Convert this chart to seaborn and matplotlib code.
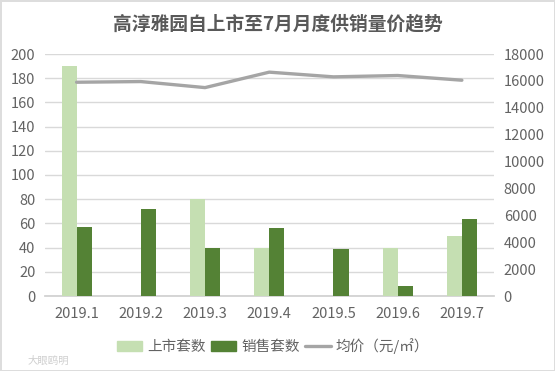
import matplotlib
matplotlib.use("Agg")
import matplotlib.pyplot as plt
import seaborn as sns
import pandas as pd
from matplotlib.patches import Patch
from matplotlib.lines import Line2D

months = ["2019.1", "2019.2", "2019.3", "2019.4", "2019.5", "2019.6", "2019.7"]
listed = [190, 0, 80, 40, 0, 40, 50]
sold = [57, 72, 40, 56, 39, 8, 64]
price = [15900, 15950, 15500, 16650, 16300, 16400, 16050]
series_names = ["上市套数", "销售套数", "均价（元/㎡）"]
title = "高淳雅园自上市至7月月度供销量价趋势"
left_ticks = list(range(0, 201, 20))
right_ticks = list(range(0, 18001, 2000))

sns.set_theme(style="white")
plt.rcParams['font.family'] = ['Noto Sans CJK SC', 'DejaVu Sans']

W, H = 555, 371
fig = plt.figure(figsize=(W / 100, H / 100), dpi=100, facecolor="white")
ax = fig.add_axes([44.5 / W, 1 - 296 / H, 449.5 / W, 242 / H])

df = pd.DataFrame({"月份": months * 2,
                   "套数": listed + sold,
                   "类型": [series_names[0]] * 7 + [series_names[1]] * 7})
colors = ["#C5DFB2", "#548235"]
sns.barplot(data=df, x="月份", y="套数", hue="类型", palette=colors, width=0.47,
            gap=0, saturation=1, legend=False, linewidth=0, ax=ax, zorder=3)
ax.set_xlim(-0.5, 6.5)
ax.set_ylim(0, 200)
ax.set_yticks(left_ticks)
ax.set_xlabel("")
ax.set_ylabel("")
ax.grid(axis="y", color="#D9D9D9", lw=1, zorder=0)
ax.set_axisbelow(True)
for s in ["top", "left", "right"]:
    ax.spines[s].set_visible(False)
ax.spines["bottom"].set_color("#D0D0D0")
ax.tick_params(axis="y", length=0, labelsize=10.5, labelcolor="#636363", pad=6.5)
ax.tick_params(axis="x", length=0, labelsize=10.5, labelcolor="#636363", pad=8)

ax2 = ax.twinx()
sns.lineplot(x=list(range(7)), y=price, color="#A5A5A5", lw=2.4, ax=ax2, zorder=4)
ax2.set_ylim(0, 18000)
ax2.set_yticks(right_ticks)
ax2.grid(False)
for s in ax2.spines.values():
    s.set_visible(False)
ax2.tick_params(axis="y", length=0, labelsize=10.5, labelcolor="#636363", pad=7)

fig.text(278 / W, 1 - 24 / H, title, ha="center", va="center", fontsize=13.5,
         fontweight="bold", color="#595959")

handles = [Patch(color=colors[0], label=series_names[0]),
           Patch(color=colors[1], label=series_names[1]),
           Line2D([0], [0], color="#A5A5A5", lw=2.4, label=series_names[2])]
fig.legend(handles=handles, loc="center", bbox_to_anchor=(273 / W, 1 - 346 / H), ncol=3,
           frameon=False, fontsize=10.5, labelcolor="#636363", handlelength=1.75,
           handleheight=0.7, handletextpad=0.35, columnspacing=0.35)

fig.text(28 / W, 1 - 366 / H, "大眼鸥明", ha="left", va="bottom", fontsize=7.5,
         color="#CFCFCF")

fig.patch.set_edgecolor("#DDDDDD")
fig.patch.set_linewidth(2)
fig.savefig("out.png", dpi=100, facecolor="white", edgecolor="#DDDDDD")
